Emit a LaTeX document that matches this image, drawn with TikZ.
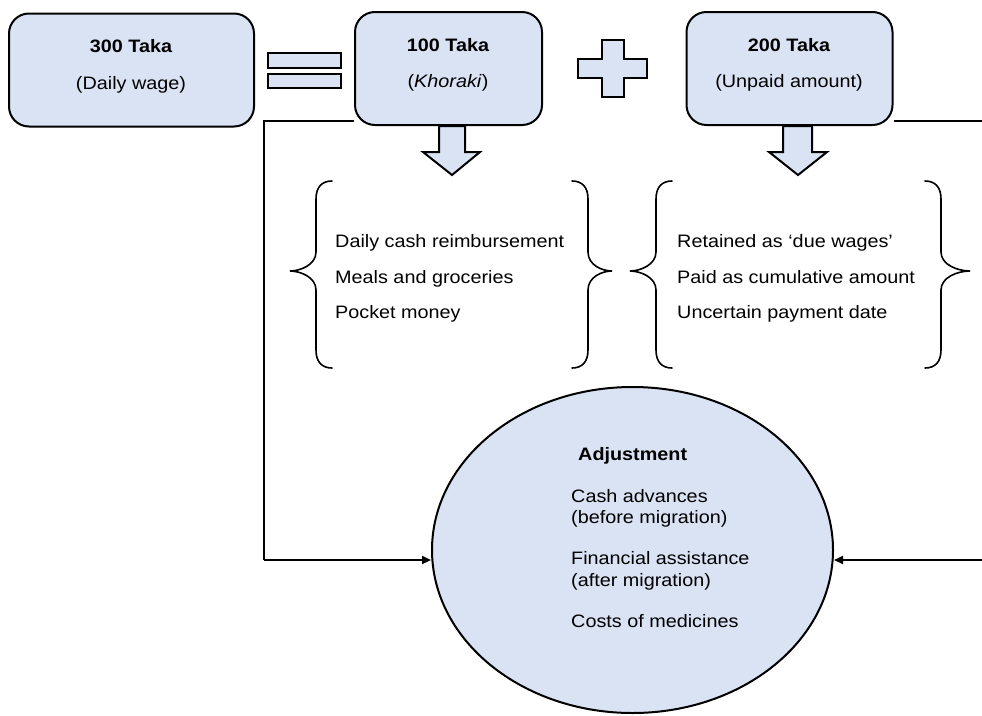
\documentclass[tikz,border=0pt]{standalone}
\usepackage{fontspec}
\setmainfont{Liberation Sans}[FakeStretch=1.1]
\usetikzlibrary{arrows.meta,shapes.geometric,backgrounds}
\definecolor{paleblue}{RGB}{218,227,243}
\tikzset{
  wagebox/.style={draw=black, line width=2pt, fill=paleblue, rounded corners=20pt, inner sep=0pt},
  bluefig/.style={draw=black, line width=2pt, fill=paleblue, line join=miter},
  txt/.style={inner sep=0pt, font=\fontsize{18}{21}\selectfont},
  bracefig/.style={draw=black, line width=1.6pt, line cap=round},
  link/.style={draw=black, line width=2pt},
  arrowlink/.style={link, -{Triangle[length=9pt,width=8pt]}}
}
\begin{document}
\begin{tikzpicture}[x=1pt,y=-1pt]
\useasboundingbox (0,0) rectangle (982,715);

% wage boxes
\node[wagebox, minimum width=245pt, minimum height=113pt] (wage) at (131.5,70) {};
\node[wagebox, minimum width=187pt, minimum height=113pt] (khoraki) at (448.5,68.5) {};
\node[wagebox, minimum width=206pt, minimum height=113pt] (unpaid) at (789.5,68.5) {};

% adjustment ellipse
\node[ellipse, draw=black, line width=2pt, fill=paleblue, inner sep=0pt,
      minimum width=401pt, minimum height=326pt] (adj) at (632.5,550) {};

% connectors into the ellipse
\coordinate (lcorner) at (264,560);
\coordinate (rcorner) at (1000,560);
\begin{scope}[on background layer]
  \draw[link] ([yshift=5pt]khoraki.south west) -| (lcorner);
  \draw[link] ([yshift=5pt]unpaid.south east) -| (rcorner);
\end{scope}
\draw[arrowlink] (lcorner) -- ([yshift=-10pt]adj.west);
\draw[arrowlink] (rcorner) -- ([yshift=-10pt]adj.east);

% equals sign
\draw[bluefig] (268,53) rectangle (341,68);
\draw[bluefig] (268,74) rectangle (341,88);

% plus sign
\draw[bluefig] (602,40) -- (624,40) -- (624,59) -- (647,59) -- (647,78) -- (624,78)
  -- (624,97) -- (602,97) -- (602,78) -- (578,78) -- (578,59) -- (602,59) -- cycle;

% down arrows
\draw[bluefig] (439,126) -- (465,126) -- (465,152) -- (480,152) -- (452,175)
  -- (423,152) -- (439,152) -- cycle;
\draw[bluefig] (783,126) -- (812,126) -- (812,152) -- (827,152) -- (798,175)
  -- (769,152) -- (783,152) -- cycle;

% braces
\draw[bracefig] (332,181) .. controls (322,181) and (316,187) .. (316,199) -- (316,252)
  .. controls (316,265) and (300,271) .. (290,271)
  .. controls (300,271) and (316,277) .. (316,290) -- (316,350)
  .. controls (316,362) and (322,368) .. (332,368);
\draw[bracefig] (572,181) .. controls (582,181) and (588,187) .. (588,199) -- (588,252)
  .. controls (588,265) and (602,271) .. (612,271)
  .. controls (602,271) and (588,277) .. (588,290) -- (588,350)
  .. controls (588,362) and (582,368) .. (572,368);
\draw[bracefig] (672,181) .. controls (662,181) and (656,187) .. (656,199) -- (656,252)
  .. controls (656,265) and (640,271) .. (630,271)
  .. controls (640,271) and (656,277) .. (656,290) -- (656,350)
  .. controls (656,362) and (662,368) .. (672,368);
\draw[bracefig] (925,181) .. controls (935,181) and (941,187) .. (941,199) -- (941,252)
  .. controls (941,265) and (958,271) .. (970,271)
  .. controls (958,271) and (941,277) .. (941,290) -- (941,350)
  .. controls (941,362) and (935,368) .. (925,368);

% box texts
\node[txt, anchor=base] (t300) at (131,52) {\bfseries 300 Taka};
\node[txt, anchor=base] (t300b) at (131,89) {(Daily wage)};
\node[txt, anchor=base] (t100) at (448,51) {\bfseries 100 Taka};
\node[txt, anchor=base] (t100b) at (448,87) {(\textit{Khoraki})};
\node[txt, anchor=base] (t200) at (789,51) {\bfseries 200 Taka};
\node[txt, anchor=base] (t200b) at (789,87) {(Unpaid amount)};

% lists
\node[txt, anchor=base west] (k1) at (335,247) {Daily cash reimbursement};
\node[txt, anchor=base west] (k2) at (335,283) {Meals and groceries};
\node[txt, anchor=base west] (k3) at (335,318) {Pocket money};
\node[txt, anchor=base west] (u1) at (677,247) {Retained as ‘due wages’};
\node[txt, anchor=base west] (u2) at (677,283) {Paid as cumulative amount};
\node[txt, anchor=base west] (u3) at (677,318) {Uncertain payment date};

% ellipse texts
\node[txt, anchor=base west] (a0) at (578,460) {\bfseries Adjustment};
\node[txt, anchor=base west] (a1) at (571,502) {Cash advances};
\node[txt, anchor=base west] (a2) at (571,523) {(before migration)};
\node[txt, anchor=base west] (a3) at (571,564) {Financial assistance};
\node[txt, anchor=base west] (a4) at (571,586) {(after migration)};
\node[txt, anchor=base west] (a5) at (571,627) {Costs of medicines};
\end{tikzpicture}
\end{document}
